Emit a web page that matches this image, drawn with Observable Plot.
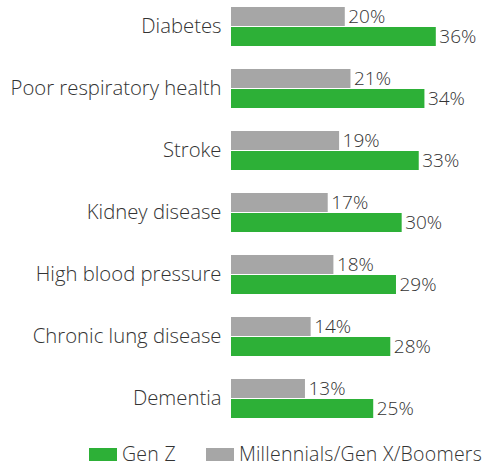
<!DOCTYPE html>
<html><head><meta charset="utf-8">
<script src="https://cdn.jsdelivr.net/npm/d3@7"></script>
<script src="https://cdn.jsdelivr.net/npm/@observablehq/plot@0.6"></script>
<style>
body{margin:0;background:#fff;font-family:"Open Sans",sans-serif;overflow:hidden;}
#legend{display:flex;align-items:center;height:20px;line-height:20px;margin-top:4px;padding-left:89px;font-size:19.5px;letter-spacing:0.25px;font-weight:300;color:#333;white-space:nowrap;}
.sw{width:28px;height:13px;margin-right:5px;display:inline-block}
</style></head><body>
<div id="chart"></div>
<div id="legend"></div>
<script>
const categories = ["Diabetes","Poor respiratory health","Stroke","Kidney disease","High blood pressure","Chronic lung disease","Dementia"];
const genZ = [36,34,33,30,29,28,25];
const others = [20,21,19,17,18,14,13];
const seriesNames = ["Millennials/Gen X/Boomers","Gen Z"];
const colors = ["#a6a6a6","#2db037"];
const data = categories.flatMap((c,i)=>[
  {category:c, series:seriesNames[0], value:others[i]},
  {category:c, series:seriesNames[1], value:genZ[i]}
]);
const chart = Plot.plot({
  width:487, height:440, marginLeft:231, marginRight:0, marginTop:6, marginBottom:22,
  x:{domain:[0,45], axis:null},
  fy:{domain:categories, paddingInner:0.373, paddingOuter:0, label:null, axis:null},
  y:{domain:seriesNames, axis:null, paddingInner:0.05, paddingOuter:0},
  color:{domain:seriesNames, range:colors},
  style:{fontFamily:"'Open Sans', sans-serif", fontSize:"19px", fontWeight:300, color:"#333", background:"#fff"},
  marks:[
    Plot.axisFy({anchor:"left", tickSize:0, tickPadding:10, label:null, dy:-1, fill:"#333", fontSize:20.3}),
    Plot.barX(data,{x:"value", y:"series", fy:"category", fill:"series"}),
    Plot.text(data,{x:"value", y:"series", fy:"category", text:d=>d.value+"%", textAnchor:"start", dx:3, fill:"#333", fontSize:19})
  ]
});
document.getElementById("chart").appendChild(chart);
const legend = document.getElementById("legend");
[[seriesNames[1],colors[1]],[seriesNames[0],colors[0]]].forEach(([n,c],i)=>{
  const item=document.createElement("span");
  item.style.display="inline-flex";item.style.alignItems="center";
  if(i>0) item.style.marginLeft="30px";
  item.innerHTML=`<span class="sw" style="background:${c}"></span><span>${n}</span>`;
  legend.appendChild(item);
});
</script>
</body></html>
